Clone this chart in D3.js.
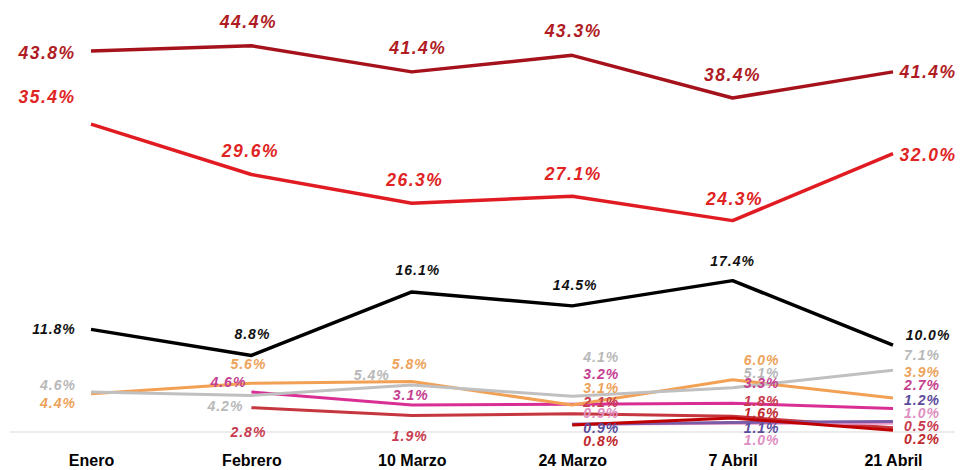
<!DOCTYPE html>
<html>
<head>
<meta charset="utf-8">
<script src="https://cdn.jsdelivr.net/npm/d3@7"></script>
<style>
  body { margin: 0; background: #fff; }
  svg { display: block; }
  .lbl { font-family: "Liberation Sans", Arial, sans-serif; font-weight: bold; font-style: italic; }
  .axis text { font-family: "Liberation Sans", Arial, sans-serif; font-weight: bold; font-size: 16px; fill: #000; }
</style>
</head>
<body>
<div id="chart"></div>
<script>
// categories on the x axis
var categories = ["Enero", "Febrero", "10 Marzo", "24 Marzo", "7 Abril", "21 Abril"];

// series values (percent), null where the series has no point yet
var darkRedValues = [43.8, 44.4, 41.4, 43.3, 38.4, 41.4];
var redValues = [35.4, 29.6, 26.3, 27.1, 24.3, 32.0];
var blackValues = [11.8, 8.8, 16.1, 14.5, 17.4, 10.0];
var grayValues = [4.6, 4.2, 5.4, 4.1, 5.1, 7.1];
var orangeValues = [4.4, 5.6, 5.8, 3.1, 6.0, 3.9];
var magentaValues = [null, 4.6, 3.1, 3.2, 3.3, 2.7];
var brickValues = [null, 2.8, 1.9, 2.1, 1.8, 0.5];
var crimsonValues = [null, null, null, 0.8, 1.6, 0.2];
var purpleValues = [null, null, null, 0.9, 1.1, 1.2];
var pinkValues = [null, null, null, 0.9, 1.0, 1.0];

// label offsets from each point [dx, dy] (layout only)
var labelOffsets = {
  darkRed: [[-44, 2], [-3, -24], [6, -24], [1, -24], [0, -23], [35, 0]],
  red: [[-44, -27], [-1, -24], [3, -23], [1, -22], [2, -22], [35, 1]],
  black: [[-37, 0], [1, -21], [6, -22], [3, -21], [0, -20], [35, -10]],
  gray: [[-33, -7], [-26, 11], [-40, -10], [29, -39], [29, -15], [29, -15]],
  orange: [[-33, 9], [-3, -19], [-2, -18], [29, -17], [29, -20], [29, -26]],
  magenta: [null, [-23, -10], [-1, -10], [29, -30], [29, -20], [29, -24]],
  brick: [null, [-3, 24], [-2, 21], [29, -12], [29, -15], [29, -2]],
  crimson: [null, null, null, [29, 16], [29, -5], [29, 9]],
  purple: [null, null, null, [29, 4], [29, 6], [29, -22]],
  pink: [null, null, null, [29, -11], [29, 17], [29, -10]]
};

var series = [
  {key: "brick", values: brickValues, line: "#c5363e", text: "#c83b4e", width: 3, size: 14},
  {key: "pink", values: pinkValues, line: "#ec9bcb", text: "#e08fc2", width: 3, size: 14},
  {key: "purple", values: purpleValues, line: "#7b5aa6", text: "#5b4b9b", width: 3, size: 14},
  {key: "crimson", values: crimsonValues, line: "#c00000", text: "#c0282d", width: 3, size: 14},
  {key: "magenta", values: magentaValues, line: "#d92f95", text: "#c5408f", width: 3, size: 14},
  {key: "orange", values: orangeValues, line: "#f2a054", text: "#eda35a", width: 3, size: 14},
  {key: "gray", values: grayValues, line: "#c0c0c0", text: "#b8b8b8", width: 3, size: 14},
  {key: "black", values: blackValues, line: "#000000", text: "#111111", width: 3.5, size: 14},
  {key: "red", values: redValues, line: "#e11b22", text: "#e02424", width: 3.5, size: 17.5},
  {key: "darkRed", values: darkRedValues, line: "#a6121c", text: "#b01c24", width: 3.5, size: 17.5}
];

var width = 964, height = 470;

var svg = d3.select("#chart").append("svg")
  .attr("width", width)
  .attr("height", height);

var x = d3.scalePoint().domain(categories).range([91, 893]);
var y = d3.scaleLinear().domain([0, 43.8]).range([432, 51]);

// baseline
svg.append("line")
  .attr("x1", 10).attr("x2", 955)
  .attr("y1", y(0)).attr("y2", y(0))
  .attr("stroke", "#d9d9d9")
  .attr("stroke-width", 1);

var axis = svg.append("g")
  .attr("class", "axis")
  .attr("transform", "translate(0," + y(0) + ")")
  .call(d3.axisBottom(x).tickSize(0).tickPadding(23));
axis.select(".domain").remove();

var line = d3.line()
  .defined(function(d) { return d.v != null; })
  .x(function(d) { return x(d.c); })
  .y(function(d) { return y(d.v); });

function toPoints(values) {
  return values.map(function(v, i) { return {c: categories[i], v: v, i: i}; });
}

series.forEach(function(s) {
  svg.append("path")
    .datum(toPoints(s.values))
    .attr("fill", "none")
    .attr("stroke", s.line)
    .attr("stroke-width", s.width)
    .attr("stroke-linejoin", "round")
    .attr("d", line);
});

series.forEach(function(s) {
  var pts = toPoints(s.values).filter(function(d) { return d.v != null; });
  svg.selectAll(null)
    .data(pts)
    .enter().append("text")
    .attr("class", "lbl")
    .attr("x", function(d) { return x(d.c) + labelOffsets[s.key][d.i][0]; })
    .attr("y", function(d) { return y(d.v) + labelOffsets[s.key][d.i][1]; })
    .attr("text-anchor", "middle")
    .attr("dominant-baseline", "central")
    .attr("font-size", s.size)
    .attr("letter-spacing", s.size > 15 ? 1.5 : 1)
    .attr("fill", s.text)
    .text(function(d) { return d.v.toFixed(1) + "%"; });
});
</script>
</body>
</html>
